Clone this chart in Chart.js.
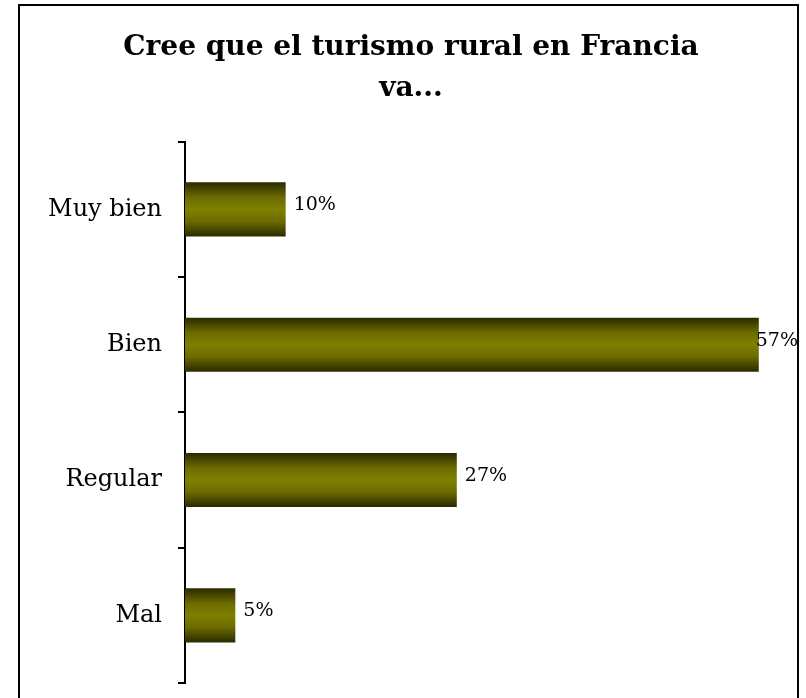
<!DOCTYPE html>
<html lang="es">
<head>
<meta charset="utf-8">
<title>Turismo rural en Francia</title>
<script src="https://cdn.jsdelivr.net/npm/chart.js@4.4.1/dist/chart.umd.min.js"></script>
<style>
    html, body { margin: 0; padding: 0; background: #ffffff; }
    #grafico { display: block; }
</style>
</head>
<body>
<canvas id="grafico" width="806" height="698"></canvas>
<script>
// --- DATOS ---
const categorias = ['Muy bien', 'Bien', 'Regular', 'Mal'];
const porcentajes = [10, 57, 27, 5];
const etiquetas = ['10%', '57%', '27%', '5%'];
const titulo = ['Cree que el turismo rural en Francia', 'va...'];

const fuenteSerif = "'DejaVu Serif', 'Liberation Serif', serif";

// --- MARCO ALREDEDOR DEL GRÁFICO ---
const marco = {
    id: 'marco',
    beforeDraw(chart) {
        const ctx = chart.ctx;
        ctx.save();
        ctx.strokeStyle = '#000000';
        ctx.lineWidth = 2;
        ctx.strokeRect(19, 5, 779, 720);
        ctx.restore();
    }
};

// --- DEGRADADO VERTICAL EN CADA BARRA ---
// las opciones de los elementos se comparten, así que cada barra recibe su propia copia
const degradado = {
    id: 'degradado',
    beforeDatasetsDraw(chart) {
        const ctx = chart.ctx;
        chart.getDatasetMeta(0).data.forEach(bar => {
            const top = bar.y - bar.height / 2;
            const g = ctx.createLinearGradient(0, top, 0, top + bar.height);
            g.addColorStop(0, '#2a2a00');
            g.addColorStop(0.28, '#6b6b00');
            g.addColorStop(0.5, '#808000');
            g.addColorStop(0.72, '#6b6b00');
            g.addColorStop(1, '#2a2a00');
            bar.options = Object.assign({}, bar.options, { backgroundColor: g });
        });
    }
};

// --- ETIQUETAS DE VALOR ---
const valores = {
    id: 'valores',
    afterDatasetsDraw(chart) {
        const ctx = chart.ctx;
        ctx.save();
        ctx.font = '19px ' + fuenteSerif;
        ctx.fillStyle = '#000000';
        ctx.textAlign = 'left';
        ctx.textBaseline = 'middle';
        chart.getDatasetMeta(0).data.forEach((bar, i) => {
            const texto = etiquetas[i];
            const ancho = ctx.measureText(texto).width;
            const x = Math.min(bar.x + 8, 798 - ancho);
            ctx.fillText(texto, x, bar.y - 4);
        });
        ctx.restore();
    }
};

const ctx = document.getElementById('grafico').getContext('2d');
new Chart(ctx, {
    type: 'bar',
    data: {
        labels: categorias,
        datasets: [{
            data: porcentajes,
            backgroundColor: '#808000',
            borderWidth: 0,
            categoryPercentage: 1,
            barPercentage: 0.4
        }]
    },
    options: {
        indexAxis: 'y',
        responsive: false,
        devicePixelRatio: 1,
        animation: false,
        layout: { padding: { left: 33, top: 0, right: 17, bottom: 15 } },
        plugins: {
            legend: { display: false },
            tooltip: { enabled: false },
            title: {
                display: true,
                text: titulo,
                color: '#000000',
                font: { family: fuenteSerif, size: 28, weight: 'bold', lineHeight: 1.46 },
                padding: { top: 27, bottom: 33 }
            }
        },
        scales: {
            x: {
                display: false,
                min: 0,
                max: 60
            },
            y: {
                afterFit: scale => {
                    scale.width = 152;
                    scale.paddingTop = 0;
                    scale.paddingBottom = 0;
                },
                border: { display: true, color: '#000000', width: 2 },
                grid: {
                    display: true,
                    drawOnChartArea: false,
                    drawTicks: true,
                    tickLength: 7,
                    color: '#000000',
                    lineWidth: 2
                },
                ticks: {
                    color: '#000000',
                    padding: 16,
                    font: { family: fuenteSerif, size: 24 }
                }
            }
        }
    },
    plugins: [marco, degradado, valores]
});
</script>
</body>
</html>
